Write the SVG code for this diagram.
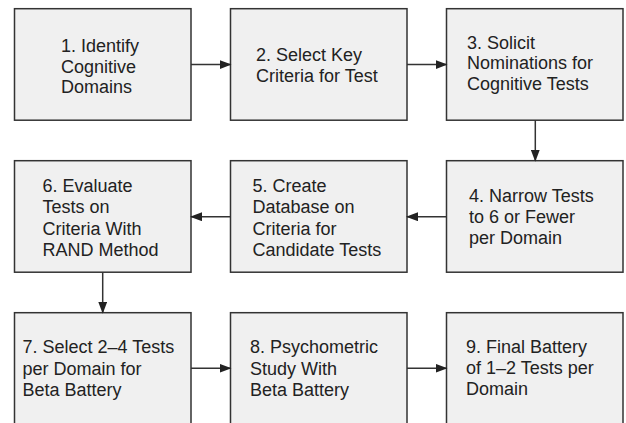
<svg xmlns="http://www.w3.org/2000/svg" width="626" height="423" viewBox="0 0 626 423">
<style>
.box{fill:#f0f0f0;stroke:#333;stroke-width:1.5}
.t{font-family:"Liberation Sans",Arial,sans-serif;font-size:18px;fill:#222}
.c{stroke:#333;stroke-width:1.5;fill:none;marker-end:url(#ah)}
</style>
<defs>
<marker id="ah" markerWidth="12" markerHeight="9" refX="11" refY="4.5" orient="auto" markerUnits="userSpaceOnUse">
<path d="M0,0 L12,4.5 L0,9 Z" fill="#222"/>
</marker>
</defs>
<rect width="626" height="423" fill="#fff"/>
<g id="n1"><rect class="box" x="14.5" y="8.7" width="176.5" height="111.5"/>
<text class="t" x="61" y="52"><tspan x="61">1. Identify</tspan><tspan x="61" dy="20.5">Cognitive</tspan><tspan x="61" dy="20.5">Domains</tspan></text></g>
<g id="n2"><rect class="box" x="230.5" y="8.7" width="176.5" height="111.5"/>
<text class="t" x="256" y="61"><tspan x="256">2. Select Key</tspan><tspan x="256" dy="20.5">Criteria for Test</tspan></text></g>
<g id="n3"><rect class="box" x="446.5" y="8.7" width="176.5" height="111.5"/>
<text class="t" x="467" y="48.5"><tspan x="467">3. Solicit</tspan><tspan x="467" dy="20.8">Nominations for</tspan><tspan x="467" dy="20.8">Cognitive Tests</tspan></text></g>
<g id="n4"><rect class="box" x="446.5" y="160.7" width="176.5" height="111.5"/>
<text class="t" x="469" y="202.3"><tspan x="469">4. Narrow Tests</tspan><tspan x="469" dy="21">to 6 or Fewer</tspan><tspan x="469" dy="21">per Domain</tspan></text></g>
<g id="n5"><rect class="box" x="230.5" y="160.7" width="176.5" height="111.5"/>
<text class="t" x="252.5" y="192.3"><tspan x="252.5">5. Create</tspan><tspan x="252.5" dy="21.1">Database on</tspan><tspan x="252.5" dy="21.1">Criteria for</tspan><tspan x="252.5" dy="21.1">Candidate Tests</tspan></text></g>
<g id="n6"><rect class="box" x="14.5" y="160.7" width="176.5" height="111.5"/>
<text class="t" x="42.5" y="192.3"><tspan x="42.5">6. Evaluate</tspan><tspan x="42.5" dy="21.1">Tests on</tspan><tspan x="42.5" dy="21.1">Criteria With</tspan><tspan x="42.5" dy="21.1">RAND Method</tspan></text></g>
<g id="n7"><rect class="box" x="14.5" y="312.7" width="176.5" height="115"/>
<text class="t" x="22.5" y="353.3"><tspan x="22.5">7. Select 2–4 Tests</tspan><tspan x="22.5" dy="21.2">per Domain for</tspan><tspan x="22.5" dy="21.2">Beta Battery</tspan></text></g>
<g id="n8"><rect class="box" x="230.5" y="312.7" width="176.5" height="115"/>
<text class="t" x="250" y="353.3"><tspan x="250">8. Psychometric</tspan><tspan x="250" dy="21.2">Study With</tspan><tspan x="250" dy="21.2">Beta Battery</tspan></text></g>
<g id="n9"><rect class="box" x="446.5" y="312.7" width="176.5" height="115"/>
<text class="t" x="466" y="353.3"><tspan x="466">9. Final Battery</tspan><tspan x="466" dy="21">of 1–2 Tests per</tspan><tspan x="466" dy="21">Domain</tspan></text></g>
<g id="connectors">
<line class="c" x1="191" y1="64.6" x2="230.5" y2="64.6"/>
<line class="c" x1="407" y1="64.6" x2="446.5" y2="64.6"/>
<line class="c" x1="535.3" y1="120.2" x2="535.3" y2="160.7"/>
<line class="c" x1="446.5" y1="216.7" x2="407" y2="216.7"/>
<line class="c" x1="230.5" y1="216.7" x2="191" y2="216.7"/>
<line class="c" x1="102.7" y1="272.2" x2="102.7" y2="312.7"/>
<line class="c" x1="191" y1="368.3" x2="230.5" y2="368.3"/>
<line class="c" x1="407" y1="368.3" x2="446.5" y2="368.3"/>
</g>
</svg>
